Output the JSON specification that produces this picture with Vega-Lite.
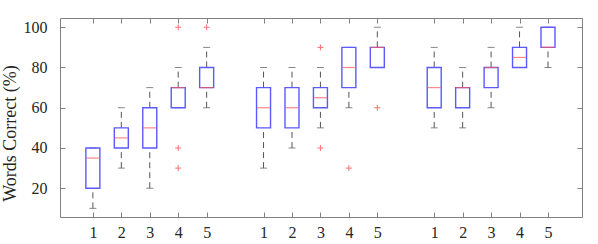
{
  "$schema": "https://vega.github.io/schema/vega-lite/v6.json",
  "autosize": "none",
  "width": 522,
  "height": 199,
  "padding": {"left": 60, "top": 18, "right": 16, "bottom": 27},
  "background": "white",
  "config": {
    "view": {"stroke": "#808080", "strokeWidth": 1},
    "font": "Liberation Serif",
    "axis": {
      "grid": false,
      "domain": false,
      "tickColor": "#808080",
      "tickSize": -5,
      "labelFont": "Liberation Serif",
      "labelFontSize": 16,
      "labelColor": "#262626",
      "titleFont": "Liberation Serif",
      "titleFontWeight": "normal",
      "titleColor": "#262626"
    }
  },
  "datasets": {
    "boxes": [
      {"pos": 1, "lo": 10, "q1": 20, "med": 35, "q3": 40, "hi": 40},
      {"pos": 2, "lo": 30, "q1": 40, "med": 45, "q3": 50, "hi": 60},
      {"pos": 3, "lo": 20, "q1": 40, "med": 50, "q3": 60, "hi": 70},
      {"pos": 4, "lo": 60, "q1": 60, "med": 70, "q3": 70, "hi": 80},
      {"pos": 5, "lo": 60, "q1": 70, "med": 70, "q3": 80, "hi": 90},
      {"pos": 7, "lo": 30, "q1": 50, "med": 60, "q3": 70, "hi": 80},
      {"pos": 8, "lo": 40, "q1": 50, "med": 60, "q3": 70, "hi": 80},
      {"pos": 9, "lo": 50, "q1": 60, "med": 65, "q3": 70, "hi": 80},
      {"pos": 10, "lo": 60, "q1": 70, "med": 80, "q3": 90, "hi": 90},
      {"pos": 11, "lo": 80, "q1": 80, "med": 90, "q3": 90, "hi": 100},
      {"pos": 13, "lo": 50, "q1": 60, "med": 70, "q3": 80, "hi": 90},
      {"pos": 14, "lo": 50, "q1": 60, "med": 70, "q3": 70, "hi": 80},
      {"pos": 15, "lo": 60, "q1": 70, "med": 80, "q3": 80, "hi": 90},
      {"pos": 16, "lo": 80, "q1": 80, "med": 85, "q3": 90, "hi": 100},
      {"pos": 17, "lo": 80, "q1": 90, "med": 90, "q3": 100, "hi": 100}
    ],
    "outliers": [
      {"pos": 4, "value": 100},
      {"pos": 4, "value": 40},
      {"pos": 4, "value": 30},
      {"pos": 5, "value": 100},
      {"pos": 9, "value": 90},
      {"pos": 9, "value": 40},
      {"pos": 10, "value": 30},
      {"pos": 11, "value": 60}
    ]
  },
  "resolve": {"axis": {"x": "independent", "y": "independent"}},
  "layer": [
    {
      "data": {"name": "boxes"},
      "mark": {"type": "rule", "color": "#555555", "strokeWidth": 1, "strokeDash": [6, 4]},
      "encoding": {
        "x": {"field": "pos", "type": "quantitative", "scale": {"domain": [0.02, 18.02], "nice": false, "zero": false},
              "axis": {"orient": "bottom", "values": [1,2,3,4,5,7,8,9,10,11,13,14,15,16,17], "title": null, "labelPadding": 12,
                       "labelFont": "Liberation Serif", "labelFontSize": 16,
                       "encode": {"labels": {"update": {"font": {"value": "Liberation Serif"}}}},
                       "labelExpr": "datum.value > 12 ? datum.value - 12 : datum.value > 6 ? datum.value - 6 : datum.value"}},
        "y": {"field": "lo", "type": "quantitative", "scale": {"domain": [5.7, 104.6], "nice": false, "zero": false},
              "axis": {"orient": "left", "values": [20, 40, 60, 80, 100], "title": "Words Correct (%)", "titleFontSize": 18,
                       "labelFont": "Liberation Serif", "labelFontSize": 16, "titleFont": "Liberation Serif",
                       "encode": {"labels": {"update": {"font": {"value": "Liberation Serif"}}}},
                       "labelPadding": 18, "titleX": -41, "titleY": 115}},
        "y2": {"field": "q1"}
      }
    },
    {
      "data": {"name": "boxes"},
      "mark": {"type": "rule", "color": "#555555", "strokeWidth": 1, "strokeDash": [6, 4]},
      "encoding": {
        "x": {"field": "pos", "type": "quantitative", "axis": null},
        "y": {"field": "q3", "type": "quantitative", "axis": null},
        "y2": {"field": "hi"}
      }
    },
    {
      "data": {"name": "boxes"},
      "mark": {"type": "tick", "orient": "horizontal", "color": "#555555", "size": 7, "thickness": 1},
      "encoding": {
        "x": {"field": "pos", "type": "quantitative", "axis": null},
        "y": {"field": "lo", "type": "quantitative", "axis": null}
      }
    },
    {
      "data": {"name": "boxes"},
      "mark": {"type": "tick", "orient": "horizontal", "color": "#555555", "size": 7, "thickness": 1},
      "encoding": {
        "x": {"field": "pos", "type": "quantitative", "axis": null},
        "y": {"field": "hi", "type": "quantitative", "axis": null}
      }
    },
    {
      "data": {"name": "boxes"},
      "mark": {"type": "bar", "width": 14, "fill": "white", "fillOpacity": 0, "stroke": "#5a5aff", "strokeWidth": 1.4},
      "encoding": {
        "x": {"field": "pos", "type": "quantitative", "axis": null},
        "y": {"field": "q1", "type": "quantitative", "axis": null},
        "y2": {"field": "q3"}
      }
    },
    {
      "data": {"name": "boxes"},
      "mark": {"type": "tick", "orient": "horizontal", "color": "#ff5555", "size": 13, "thickness": 1.2},
      "encoding": {
        "x": {"field": "pos", "type": "quantitative", "axis": null},
        "y": {"field": "med", "type": "quantitative", "axis": null}
      }
    },
    {
      "data": {"name": "outliers"},
      "mark": {"type": "point", "shape": "M-1,0L1,0M0,-1L0,1", "size": 36, "filled": false, "stroke": "#ff3333", "strokeWidth": 1},
      "encoding": {
        "x": {"field": "pos", "type": "quantitative", "axis": null},
        "y": {"field": "value", "type": "quantitative", "axis": null}
      }
    },
    {
      "data": {"name": "boxes"},
      "mark": {"type": "tick", "opacity": 0},
      "encoding": {
        "x": {"field": "pos", "type": "quantitative",
              "axis": {"orient": "top", "values": [1,2,3,4,5,7,8,9,10,11,13,14,15,16,17], "labels": false, "title": null}},
        "y": {"field": "med", "type": "quantitative",
              "axis": {"orient": "right", "values": [20, 40, 60, 80, 100], "labels": false, "title": null}}
      }
    }
  ]
}
